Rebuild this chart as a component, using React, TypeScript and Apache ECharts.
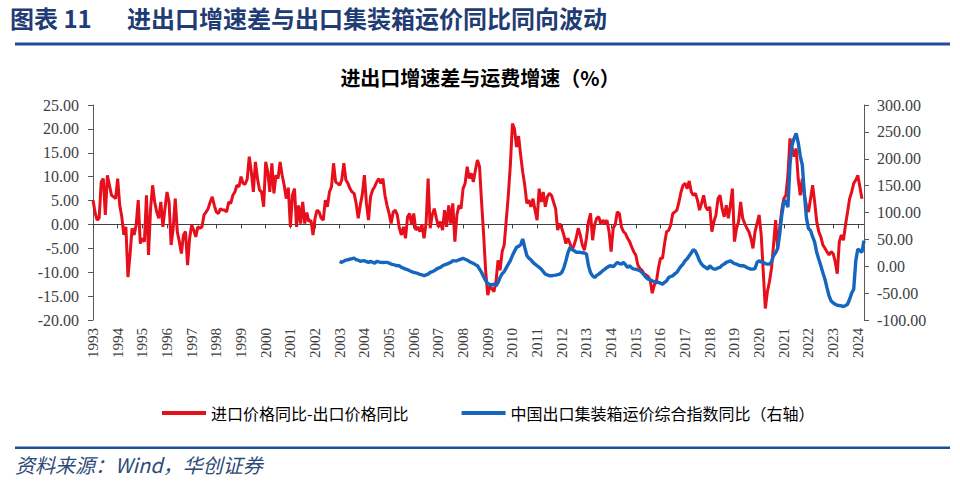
import React, { useEffect, useRef } from "react";
import * as echarts from "echarts";

// ---- categories (monthly, 1993-01 .. 2024-04) ----
const years = [1993, 1994, 1995, 1996, 1997, 1998, 1999, 2000, 2001, 2002, 2003, 2004, 2005, 2006, 2007, 2008,
  2009, 2010, 2011, 2012, 2013, 2014, 2015, 2016, 2017, 2018, 2019, 2020, 2021, 2022, 2023, 2024];
const monthsInLastYear = 4;
const categories: string[] = [];
years.forEach((y, i) => {
  const n = i === years.length - 1 ? monthsInLastYear : 12;
  for (let m = 1; m <= n; m++) categories.push(`${y}-${m < 10 ? "0" + m : m}`);
});

// ---- 进口价格同比-出口价格同比 (left axis, %) ----
const gap1993to1996 = [
  5.1, 2.5, 0.9, 1.3, 8.9, 9.6, 2.0, 10.3, 8.2, 6.1, 5.8, 5.4,
  9.6, 4.0, 1.6, -2.2, -0.5, -11.0, -6.4, -0.8, -2.2, -0.1, 5.1, -4.0,
  -2.9, -3.6, 6.1, -6.4, 3.3, 8.2, 4.7, 2.6, 1.3, 4.7, -0.5, 3.3,
  6.8, 4.7, -4.3, -0.8, 5.4, -1.5, -3.6, -6.1, -2.2, -1.5, -8.5, -2.9,
];
const gap1997to2000 = [
  -0.1, -1.2, -2.6, -0.5, -0.8, -0.5, 2.0, 2.6, 3.3, 4.7, 5.8, 4.0,
  2.6, 2.3, 3.3, 3.0, 3.0, 2.6, 4.7, 4.4, 6.1, 6.8, 8.2, 7.9,
  10.0, 8.6, 8.4, 9.5, 14.2, 11.0, 6.8, 13.1, 9.6, 7.2, 6.8, 3.7,
  13.1, 11.0, 6.8, 12.8, 6.5, 10.3, 9.6, 13.1, 10.3, 8.2, 5.4, 7.7,
];
const gap2001to2004 = [
  -0.5, 6.1, 7.5, -0.5, 4.0, 0.2, 4.7, 0.2, 2.5, 0.6, 0.9, -2.2,
  1.3, 3.0, 2.6, 1.3, 0.9, 5.1, 3.7, 6.8, 7.9, 12.8, 8.9, 8.6,
  8.2, 9.3, 12.8, 9.3, 8.6, 7.5, 6.8, 6.5, 4.4, 1.3, 4.0, 6.3,
  10.3, 4.4, 0.9, 5.8, 7.2, 7.9, 8.9, 9.6, 8.6, 9.6, 6.1, 4.0,
];
const gap2005to2008 = [
  2.3, 0.2, 2.6, 3.0, 2.0, -0.8, -2.2, -0.5, -2.9, 1.6, 2.3, -0.1,
  2.3, -1.2, -0.5, -1.5, 0.0, -2.9, 0.2, 9.6, -0.8, 2.0, 3.3, 1.3,
  -0.5, 0.6, -1.2, 3.0, -0.5, 4.0, 0.2, 4.4, -3.6, 2.0, 4.0, 3.3,
  7.5, 8.6, 12.1, 9.6, 10.7, 8.9, 11.4, 13.5, 12.1, 4.7, -2.2, -9.9,
];
const gap2009to2012 = [
  -14.8, -13.0, -13.4, -14.1, -12.0, -7.5, -9.6, -5.7, -4.3, 0.9, 6.1, 12.5,
  21.1, 20.0, 16.2, 18.5, 14.5, 11.0, 8.2, 4.4, 5.1, 3.7, 5.4, 3.0,
  0.9, 7.5, 4.7, 6.8, 3.7, 5.8, 6.5, 6.1, 4.7, 3.3, -1.2, 0.2,
  -0.8, -2.2, -4.0, -2.9, -4.0, -5.4, -4.3, -2.9, -0.8, -2.2, -4.3, -5.4,
];
const gap2013to2016 = [
  -2.9, 0.6, 2.3, -3.3, 0.0, 1.3, 1.6, 0.0, 0.9, 0.2, 0.9, -1.5,
  -5.7, -0.8, 0.0, 2.6, 2.3, -0.5, -1.5, -1.9, -2.9, -3.6, -4.7, -5.7,
  -6.4, -8.5, -9.2, -9.6, -10.3, -10.6, -10.9, -11.6, -14.4, -12.7, -12.0, -9.2,
  -7.1, -7.1, -4.0, -1.5, -1.2, -0.1, 2.3, 2.6, 3.0, 4.7, 6.8, 8.2,
];
const gap2017to2020 = [
  8.6, 7.5, 9.1, 6.8, 6.1, 6.5, 5.1, 3.0, 4.4, 6.1, 3.7, 3.0,
  3.7, -1.5, 0.6, 2.0, 5.4, 6.1, 3.3, 1.6, 4.0, 1.3, 4.0, 7.5,
  -3.6, -0.8, 0.6, 4.7, 1.3, 0.2, -0.8, -1.5, -2.9, -5.0, -1.5, 0.2,
  2.0, -2.2, -9.9, -17.6, -14.1, -12.0, -9.2, -4.3, 0.9, -5.0, -0.8, 3.0,
];
const gap2021to2024 = [
  5.4, 6.1, 10.3, 18.0, 15.9, 14.2, 15.9, 9.5, 6.1, 9.6, 6.1, 4.0,
  2.6, 5.4, 8.2, 4.7, 0.6, -1.5, -2.6, -4.3, -5.0, -5.7, -6.4, -5.7,
  -6.1, -7.8, -10.3, -3.6, -2.2, -3.3, -0.1, 2.6, 5.4, 6.8, 8.6, 9.3,
  10.3, 7.9, 5.4,
];

// ---- 中国出口集装箱运价综合指数同比 (right axis, %), starts 2003-01 ----
const freightStartIndex = 120;
const freight2003to2006 = [
  9.0, 7.2, 9.5, 11.5, 12.0, 13.4, 14.0, 15.3, 12.0, 11.5, 9.0, 10.0,
  10.3, 8.5, 7.2, 9.0, 7.5, 5.9, 9.0, 8.0, 7.2, 7.0, 7.2, 7.2,
  6.0, 4.0, 3.0, 2.2, 0.9, 0.9, -2.2, -3.5, -5.3, -6.5, -8.4, -10.0,
  -11.5, -12.5, -13.4, -15.0, -15.9, -17.8, -16.0, -14.6, -11.5, -10.0, -8.4, -5.3,
];
const freight2007to2010 = [
  -3.5, -2.2, 0.9, 2.5, 4.0, 5.5, 7.2, 10.3, 10.0, 10.3, 12.0, 13.4,
  14.6, 13.0, 11.5, 9.0, 7.0, 5.3, 3.0, 0.9, -5.3, -11.5, -19.6, -27.1,
  -32.1, -34.0, -34.6, -33.3, -36.4, -30.2, -20.9, -14.0, -10.0, -3.0, 4.0, 10.3,
  20.0, 28.0, 35.2, 37.0, 40.0, 50.8, 35.0, 20.0, 15.0, 12.0, 7.2, 4.0,
];
const freight2011to2014 = [
  0.9, -2.0, -5.3, -10.0, -14.6, -16.0, -17.8, -17.8, -17.0, -16.5, -15.5, -14.6,
  -11.5, -3.0, 10.0, 25.0, 35.2, 31.0, 29.0, 26.0, 26.0, 25.9, 25.0, 24.6,
  22.7, 0.9, -12.0, -17.8, -20.9, -17.0, -14.6, -11.5, -8.0, -5.3, -2.2, 0.0,
  0.9, -1.0, 3.0, 7.2, 5.0, 4.0, 7.2, 3.0, -2.2, 0.9, -3.0, -5.3,
];
const freight2015to2018 = [
  -5.3, -7.0, -8.4, -11.5, -16.0, -20.9, -24.0, -25.5, -27.1, -29.0, -29.5, -30.2,
  -31.5, -33.3, -30.0, -27.1, -20.9, -19.0, -17.8, -14.0, -11.5, -5.3, 0.0, 4.0,
  10.3, 14.0, 19.6, 25.0, 30.8, 28.0, 20.0, 10.0, 4.0, 0.0, -2.2, -5.3,
  0.9, -3.0, -5.3, -5.3, -3.0, -2.2, 2.0, 4.0, 7.2, 8.5, 10.3, 7.2,
];
const freight2019to2022 = [
  5.0, 4.0, 2.0, 0.9, 0.9, 0.0, -2.2, -4.0, -5.3, -5.3, -4.0, 7.2,
  10.3, 8.0, 7.2, 5.0, 4.0, 4.0, 8.0, 19.6, 25.0, 33.0, 60.0, 95.0,
  119.3, 122.4, 110.0, 190.0, 225.0, 238.0, 247.0, 230.0, 205.0, 188.0, 135.0, 90.0,
  70.0, 66.4, 55.0, 45.0, 25.9, 13.0, 0.9, -12.0, -24.0, -40.0, -55.0, -64.5,
];
const freight2023to2024 = [
  -68.0, -70.7, -72.6, -73.0, -73.8, -75.1, -73.0, -70.7, -61.4, -50.0, -42.7, 10.0,
  32.1, 29.0, 25.9, 47.7,
];

const leftTicks = { min: -20, max: 25, interval: 5 };
const rightTicks = { min: -100, max: 300, interval: 50 };

const redName = "进口价格同比-出口价格同比";
const blueName = "中国出口集装箱运价综合指数同比（右轴）";

export default function App() {
  const ref = useRef<HTMLDivElement>(null);

  useEffect(() => {
    if (!ref.current) return;
    const chart = echarts.init(ref.current, undefined, { renderer: "svg" });

    const redData = [
      ...gap1993to1996, ...gap1997to2000, ...gap2001to2004, ...gap2005to2008,
      ...gap2009to2012, ...gap2013to2016, ...gap2017to2020, ...gap2021to2024,
    ];
    const freight = [
      ...freight2003to2006, ...freight2007to2010, ...freight2011to2014,
      ...freight2015to2018, ...freight2019to2022, ...freight2023to2024,
    ];
    const blueData: (number | null)[] = categories.map((_, i) =>
      i >= freightStartIndex && i - freightStartIndex < freight.length ? freight[i - freightStartIndex] : null
    );

    const isJan = (idx: number) => idx % 12 === 0;
    const serif = "'Liberation Serif', 'Times New Roman', serif";
    const cjk = "'Noto Sans CJK SC', sans-serif";
    const axisColor = "#595959";

    chart.setOption({
      animation: false,
      backgroundColor: "#ffffff",
      title: {
        text: "进出口增速差与运费增速（%）",
        left: "center",
        top: 62,
        textStyle: { fontFamily: cjk, fontSize: 20, fontWeight: "bold", color: "#000000" },
      },
      legend: {
        left: 157,
        top: 400,
        icon: "rect",
        itemWidth: 44,
        itemHeight: 4,
        itemGap: 53,
        textStyle: { fontFamily: cjk, fontSize: 16, color: "#000000" },
        data: [redName, blueName],
      },
      grid: { left: 93, right: 96, top: 105, bottom: 171, containLabel: false },
      xAxis: [
        {
          type: "category",
          data: categories,
          boundaryGap: false,
          position: "bottom",
          axisLine: { show: false, onZero: false },
          axisTick: { show: false },
          axisLabel: {
            interval: (idx: number) => isJan(idx),
            formatter: (v: string) => v.slice(0, 4),
            rotate: 90,
            margin: 8,
            fontFamily: serif,
            fontSize: 15,
            color: "#404040",
          },
          splitLine: { show: false },
        },
        {
          type: "category",
          data: categories,
          boundaryGap: false,
          position: "bottom",
          axisLine: { show: true, onZero: true, onZeroAxisIndex: 0, lineStyle: { color: "#404040", width: 1 } },
          axisTick: { show: true, interval: (idx: number) => isJan(idx), length: 4, lineStyle: { color: "#404040" } },
          axisLabel: { show: false },
          splitLine: { show: false },
        },
      ],
      yAxis: [
        {
          type: "value",
          position: "left",
          min: leftTicks.min,
          max: leftTicks.max,
          interval: leftTicks.interval,
          axisLine: { show: true, onZero: false, lineStyle: { color: axisColor, width: 1 } },
          axisTick: { show: true, length: 5, lineStyle: { color: axisColor } },
          axisLabel: {
            formatter: (v: number) => v.toFixed(2),
            fontFamily: serif,
            fontSize: 16,
            color: "#404040",
            margin: 14,
          },
          splitLine: { show: false },
        },
        {
          type: "value",
          position: "right",
          min: rightTicks.min,
          max: rightTicks.max,
          interval: rightTicks.interval,
          axisLine: { show: true, onZero: false, lineStyle: { color: axisColor, width: 1 } },
          axisTick: { show: true, length: 5, lineStyle: { color: axisColor } },
          axisLabel: {
            formatter: (v: number) => v.toFixed(2),
            fontFamily: serif,
            fontSize: 16,
            color: "#404040",
            margin: 13,
          },
          splitLine: { show: false },
        },
      ],
      series: [
        {
          name: redName,
          type: "line",
          xAxisIndex: 0,
          yAxisIndex: 0,
          data: redData,
          symbol: "none",
          lineStyle: { color: "#E60F1B", width: 3 },
          itemStyle: { color: "#E60F1B" },
        },
        {
          name: blueName,
          type: "line",
          xAxisIndex: 0,
          yAxisIndex: 1,
          data: blueData,
          symbol: "none",
          connectNulls: false,
          lineStyle: { color: "#1566BF", width: 3.4 },
          itemStyle: { color: "#1566BF" },
        },
      ],
      graphic: [
        {
          type: "text",
          left: 10,
          top: 5,
          style: { text: "图表 11", fill: "#1F3C74", font: `bold 24px ${cjk}` },
        },
        {
          type: "text",
          left: 127,
          top: 5,
          style: { text: "进出口增速差与出口集装箱运价同比同向波动", fill: "#1F3C74", font: `bold 24px ${cjk}` },
        },
        {
          type: "rect",
          shape: { x: 15, y: 42.5, width: 935, height: 3 },
          style: { fill: "#1F4E9B" },
        },
        {
          type: "rect",
          shape: { x: 15, y: 446.5, width: 935, height: 2.5 },
          style: { fill: "#1F4E9B" },
        },
        {
          type: "text",
          left: 15,
          top: 454,
          style: { text: "资料来源：Wind，华创证券", fill: "#2D4A7A", font: `italic 20px ${cjk}` },
        },
      ],
    });

    return () => chart.dispose();
  }, []);

  return (
    <div
      ref={ref}
      style={{ position: "fixed", left: 0, top: 0, width: 960, height: 491, background: "#fff" }}
    />
  );
}
